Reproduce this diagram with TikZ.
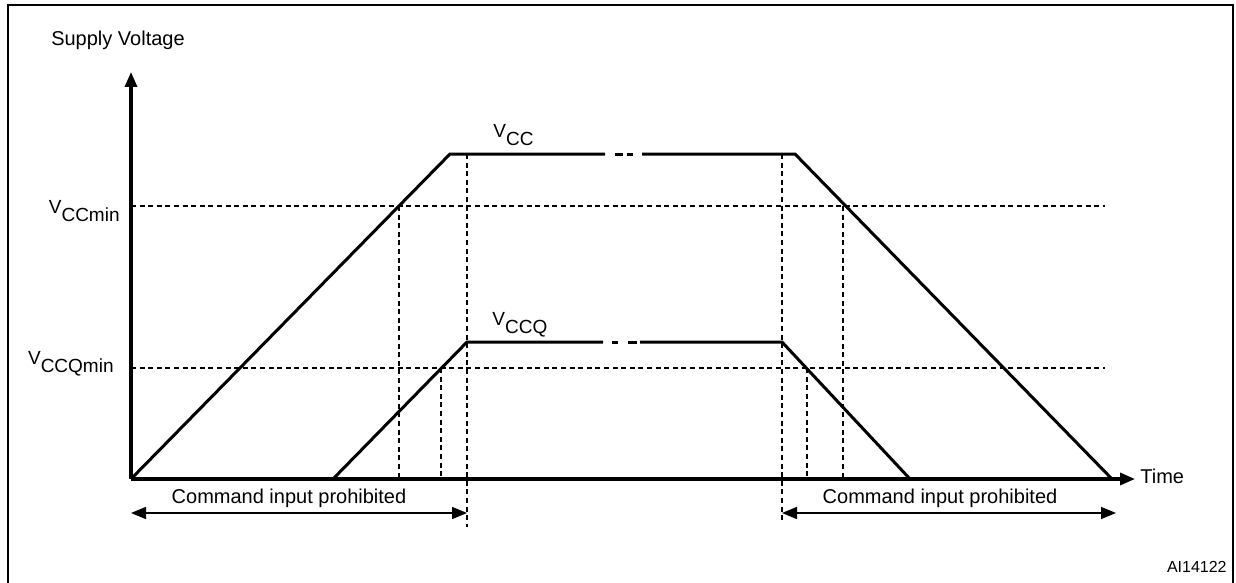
\documentclass[tikz,border=0pt]{standalone}
\usepackage{fontspec}
\setmainfont{Liberation Sans}
\usepackage{tikz}
\usetikzlibrary{arrows.meta}
\tikzstyle{frame} = [line width=1.3pt]
\tikzstyle{axisline} = [line width=1.6pt, -{Triangle[length=7.5pt,width=6pt]}]
\tikzstyle{supply} = [line width=1.5pt, line join=miter]
\tikzstyle{guide} = [line width=0.7pt, dash pattern=on 2.5pt off 1.8pt]
\tikzstyle{prohibit} = [line width=0.75pt, {Triangle[length=7.5pt,width=6pt]}-{Triangle[length=7.5pt,width=6pt]}]
\tikzstyle{lbl} = [inner sep=0pt, font=\fontsize{10}{12}\selectfont]
\tikzstyle{vlbl} = [inner sep=0pt, font=\fontsize{9.5}{11}\selectfont]
\newcommand{\vname}[1]{V\raisebox{-4.3pt}{#1}}

\begin{document}
\begin{tikzpicture}[x=0.5pt, y=-0.5pt]
	\useasboundingbox (0,0) rectangle (1236,583);
	\draw [frame] (8,583) -- (8,5) -- (1233,5) -- (1233,583);

	% axes
	\coordinate (O) at (131,479);
	\coordinate (ytip) at (131,72);
	\coordinate (xtip) at (1135,479);
	\draw [axisline] (O) -- (ytip);
	\draw [axisline] (O) -- (xtip);
	\node (ylab) [lbl, anchor=base] at (118,46) {Supply Voltage};
	\node (tlab) [lbl, anchor=base west] at (1140,483) {Time};

	% threshold levels
	\draw [guide] (131,206) -- (1105,206);
	\draw [guide] (131,368) -- (1105,368);
	\node (vccmin) [vlbl, anchor=base east] at (120,213) {\vname{CCmin}};
	\node (vccqmin) [vlbl, anchor=base east] at (114,364) {\vname{CCQmin}};

	% VCC
	\coordinate (c1) at (450,154);
	\coordinate (c2) at (795,154);
	\draw [supply] (O) -- (c1) -- (605,154);
	\draw [supply] (615,154) -- (623,154) (627,154) -- (633,154);
	\draw [supply] (642,154) -- (c2) -- (1112,479);
	\node (vcc) [vlbl, anchor=base west] at (493,137) {\vname{CC}};

	% VCCQ
	\coordinate (q0) at (333,479);
	\coordinate (q1) at (467,342);
	\coordinate (q2) at (782,342);
	\draw [supply] (q0) -- (q1) -- (603,342);
	\draw [supply] (612,342) -- (618,342) (628,342) -- (637,342);
	\draw [supply] (640,342) -- (q2) -- (910,479);
	\node (vccq) [vlbl, anchor=base west] at (492,325) {\vname{CCQ}};

	% crossing markers
	\draw [guide] (399,206) -- (399,479);
	\draw [guide] (441,368) -- (441,479);
	\draw [guide] (467,154) -- (467,527);
	\draw [guide] (782,154) -- (782,520);
	\draw [guide] (807,368) -- (807,479);
	\draw [guide] (843,206) -- (843,479);

	% prohibited windows
	\coordinate (a1) at (131,513);
	\coordinate (a2) at (467,513);
	\coordinate (b1) at (782,513);
	\coordinate (b2) at (1116,513);
	\draw [prohibit] (a1) -- (a2);
	\draw [prohibit] (b1) -- (b2);
	\node (cmd1) [lbl, anchor=base] at (289,503) {Command input prohibited};
	\node (cmd2) [lbl, anchor=base] at (940,503) {Command input prohibited};

	\node (ref) [inner sep=0pt, font=\fontsize{8}{10}\selectfont, anchor=base east] at (1227,572) {AI14122};
\end{tikzpicture}
\end{document}
